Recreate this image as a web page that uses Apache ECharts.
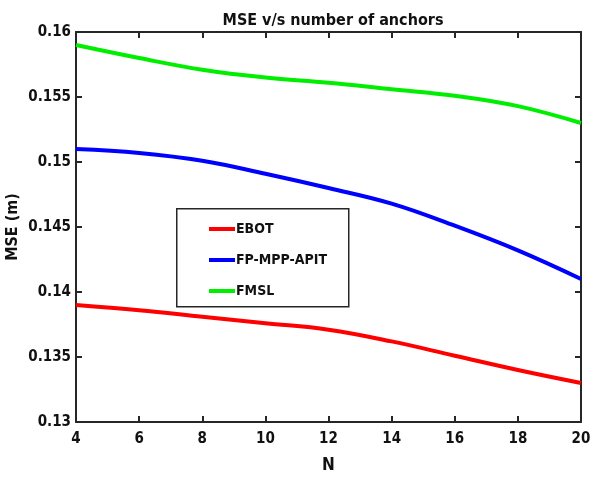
<!DOCTYPE html>
<html>
<head>
<meta charset="utf-8">
<script src="https://cdn.jsdelivr.net/npm/echarts@6/dist/echarts.min.js"></script>
<style>
  html, body { margin: 0; padding: 0; background: #fff; }
  #main { width: 596px; height: 477px; }
</style>
</head>
<body>
<div id="main"></div>
<script>
// anchors count on the x axis
var anchors = [4, 6, 8, 10, 12, 14, 16, 18, 20];
// MSE values
var ebot = [0.139, 0.1386, 0.1381, 0.1376, 0.1371, 0.1362, 0.1351, 0.134, 0.133];
var fpMppApit = [0.151, 0.1507, 0.1501, 0.1491, 0.148, 0.1468, 0.1451, 0.1432, 0.141];
var fmsl = [0.159, 0.158, 0.1571, 0.1565, 0.1561, 0.1556, 0.1551, 0.1543, 0.153];

var fontFam = '"DejaVu Sans Condensed", "Liberation Sans", sans-serif';

function pairs(xs, ys) {
    var out = [];
    for (var i = 0; i < xs.length; i++) {
        out.push([xs[i], ys[i]]);
    }
    return out;
}

var axisLineStyle = { color: '#262626', width: 2 };

var option = {
    animation: false,
    title: {
        text: 'MSE v/s number of anchors',
        left: 328,
        textAlign: 'center',
        top: 8,
        textStyle: { fontFamily: fontFam, fontWeight: 'bold', fontSize: 16, color: '#111' }
    },
    grid: { left: 76, right: 15, top: 32, bottom: 55, outerBoundsMode: 'none', containLabel: false },
    legend: {
        orient: 'vertical',
        left: 204,
        top: 217,
        icon: 'rect',
        itemWidth: 26,
        itemHeight: 4,
        itemGap: 17,
        textStyle: { fontFamily: fontFam, fontWeight: 'bold', fontSize: 14, color: '#111', padding: [0, 0, 0, -4] },
        data: ['EBOT', 'FP-MPP-APIT', 'FMSL']
    },
    graphic: [{
        type: 'rect',
        left: 176,
        top: 208,
        shape: { width: 172, height: 98 },
        style: { fill: '#fff', stroke: '#262626', lineWidth: 1.5 },
        z: 1
    }],
    xAxis: [{
        type: 'value',
        min: 4,
        max: 20,
        interval: 2,
        name: 'N',
        nameLocation: 'middle',
        nameGap: 35,
        nameMoveOverlap: false,
        nameTextStyle: { fontFamily: fontFam, fontWeight: 'bold', fontSize: 17, color: '#111' },
        axisLine: { lineStyle: axisLineStyle },
        axisTick: { inside: true, length: 6, lineStyle: axisLineStyle },
        axisLabel: { fontFamily: fontFam, fontWeight: 'bold', fontSize: 15, color: '#111', margin: 10 },
        splitLine: { show: false }
    }, {
        type: 'value',
        position: 'top',
        min: 4,
        max: 20,
        interval: 2,
        axisLine: { show: true, lineStyle: axisLineStyle },
        axisTick: { inside: true, length: 6, lineStyle: axisLineStyle },
        axisLabel: { show: false },
        splitLine: { show: false }
    }],
    yAxis: [{
        type: 'value',
        min: 0.13,
        max: 0.16,
        interval: 0.005,
        name: 'MSE (m)',
        nameLocation: 'middle',
        nameGap: 55,
        nameMoveOverlap: false,
        nameTextStyle: { fontFamily: fontFam, fontWeight: 'bold', fontSize: 16, color: '#111' },
        axisLine: { lineStyle: axisLineStyle },
        axisTick: { inside: true, length: 6, lineStyle: axisLineStyle },
        axisLabel: {
            fontFamily: fontFam, fontWeight: 'bold', fontSize: 15, color: '#111', margin: 5,
            formatter: function (v) { return String(parseFloat(v.toFixed(3))); }
        },
        splitLine: { show: false }
    }, {
        type: 'value',
        position: 'right',
        min: 0.13,
        max: 0.16,
        interval: 0.005,
        axisLine: { show: true, lineStyle: axisLineStyle },
        axisTick: { inside: true, length: 6, lineStyle: axisLineStyle },
        axisLabel: { show: false },
        splitLine: { show: false }
    }],
    series: [{
        name: 'EBOT',
        type: 'line',
        smooth: 0.4,
        showSymbol: false,
        lineStyle: { color: '#ff0000', width: 4 },
        itemStyle: { color: '#ff0000' },
        data: pairs(anchors, ebot)
    }, {
        name: 'FP-MPP-APIT',
        type: 'line',
        smooth: 0.4,
        showSymbol: false,
        lineStyle: { color: '#0000ff', width: 4 },
        itemStyle: { color: '#0000ff' },
        data: pairs(anchors, fpMppApit)
    }, {
        name: 'FMSL',
        type: 'line',
        smooth: 0.4,
        showSymbol: false,
        lineStyle: { color: '#00ee00', width: 4 },
        itemStyle: { color: '#00ee00' },
        data: pairs(anchors, fmsl)
    }]
};

var myChart = echarts.init(document.getElementById('main'));
myChart.setOption(option);
</script>
</body>
</html>
